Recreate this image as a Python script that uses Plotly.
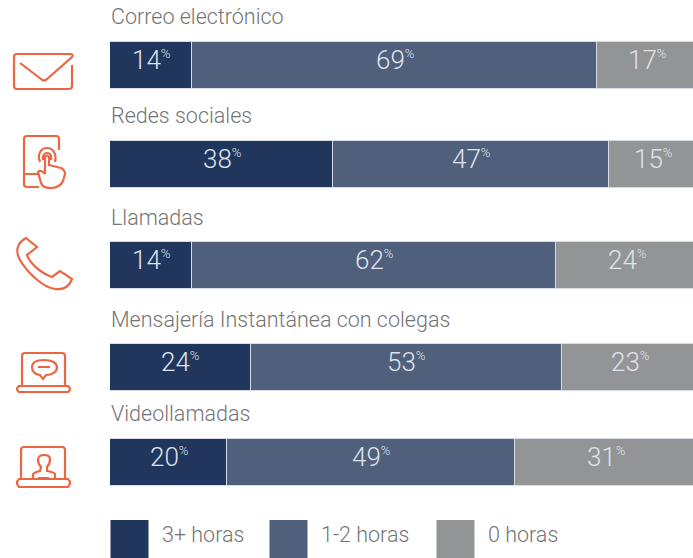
import plotly.graph_objects as go

# Survey data: hours per day spent on each channel (percent of respondents)
channels = ["Correo electrónico", "Redes sociales", "Llamadas",
            "Mensajería Instantánea con colegas", "Videollamadas"]
series_names = ["3+ horas", "1-2 horas", "0 horas"]
heavy_use = [14, 38, 14, 24, 20]
medium_use = [69, 47, 62, 53, 49]
no_use = [17, 15, 24, 23, 31]

# Layout, in page pixels
W, H = 693, 558
row_centres = [65.5, 164.5, 265.5, 367.5, 462.5]
title_y = [16, 115, 217, 319, 413]
bar_px = 47
plot_left = 110
full_scale_px = 587  # width of 100 %
colors = ["#21365c", "#4f5f7c", "#939496"]
edge = "#d5dce6"
label_color = "#dde3ea"
text_color = "#747474"
icon_color = "#ec6642"
font = "Roboto"

fig = go.Figure()

for name, vals, col in zip(series_names, [heavy_use, medium_use, no_use], colors):
    fig.add_trace(go.Bar(
        name=name, y=row_centres, x=vals, orientation="h", width=bar_px,
        marker=dict(color=col, line=dict(color=edge, width=1)),
        showlegend=False, hoverinfo="x+name",
    ))

# Value labels, centred on each segment and raised a little above the bar middle
for i in range(len(channels)):
    start = 0
    for vals in (heavy_use, medium_use, no_use):
        v = vals[i]
        fig.add_annotation(
            x=start + v / 2, y=row_centres[i] - 6, xref="x", yref="y",
            text=f"{v}<sup><span style='font-size:13px'>%</span></sup>",
            showarrow=False, xanchor="center", yanchor="middle",
            font=dict(family=font, size=26, color=label_color, weight=300),
        )
        start += v

# Legend swatches on the pixel axis
legend_x = [129.5, 288.5, 455.5]
legend_text_x = [160, 319, 486]
legend_y = 539
fig.add_trace(go.Scatter(
    x=legend_x, y=[legend_y] * 3, xaxis="x2", yaxis="y", mode="markers",
    marker=dict(symbol="square", size=38, color=colors, line=dict(width=0)),
    showlegend=False, hoverinfo="skip",
))
for name, x in zip(series_names, legend_text_x):
    fig.add_annotation(
        x=x, y=534, xref="x2", yref="y", text=name, showarrow=False,
        xanchor="left", yanchor="middle",
        font=dict(family=font, size=21.5, color=text_color, weight=300),
    )

# Channel headings
for name, y in zip(channels, title_y):
    fig.add_annotation(
        x=109, y=y, xref="x2", yref="y", text=name, showarrow=False,
        xanchor="left", yanchor="middle",
        font=dict(family=font, size=21.5, color=text_color, weight=300),
    )

# Line icons beside each row
icon_paths = [
    # envelope
    "M72,65 L72,86 Q72,89 69,89 L17,89 Q14,89 14,86 L14,57 Q14,54 17,54 L70,54 "
    "Q74,54 72,57 L47,79 Q44,82 41,79 L20,63",
    # tablet with pointing hand
    "M59,150 L59,139 Q59,136 56,136 L27,136 Q24,136 24,139 L24,184 Q24,187 27,187 L39,187 "
    "M24,174 L38,174 "
    "M40,162 C37,154 41,148 47,148 C53,148 57,154 55,162 "
    "M43,160 C42,155 45,153 47,153 C50,153 52,155 51,160 "
    "M45,174 L45,157 Q47,154 49,157 L49,165 L61,168 Q65,170 65,174 L63,181 Q60,188 50,188 "
    "Q43,188 41,183 L38,172 Q41,169 45,174",
    # telephone handset
    "M26,238 L37,247 L27,255 C29,262 40,273 52,277 L60,271 L72,279 "
    "C69,287 63,290 55,289 C42,287 27,272 20,260 C15,251 17,243 26,238 Z",
    # laptop with speech bubble
    "M22,385 L22,356 Q22,353 25,353 L62,353 Q65,353 65,356 L65,385 "
    "M19,386 L68,386 Q72,389 68,392 L19,392 Q15,389 19,386 Z "
    "M44,360 C36,360 32,363 32,367.5 C32,372 36,375 40,375 L43,379 L46,375 "
    "C52,375 57,372 57,367.5 C57,363 52,360 44,360 Z M38,367 L50,367",
    # laptop with a person on screen
    "M21,478 L21,450 Q21,447 24,447 L62,447 Q65,447 65,450 L65,478 "
    "M19,479 L68,479 Q72,483 68,487 L19,487 Q15,483 19,479 Z "
    "M33,478 L33,474 Q35,472 40,471 L41,467 Q38,464 38,459 Q39,455 44,455 Q50,455 50,459 "
    "Q50,464 47,467 L47,471 Q53,472 55,474 L55,478 M38,478 L49,478",
]
for path in icon_paths:
    fig.add_shape(type="path", path=path, xref="x2", yref="y",
                  line=dict(color=icon_color, width=2.2), fillcolor="rgba(0,0,0,0)")

fig.update_layout(
    width=W, height=H, barmode="stack", margin=dict(l=0, r=0, t=0, b=0),
    paper_bgcolor="white", plot_bgcolor="rgba(0,0,0,0)", bargap=0,
    xaxis=dict(domain=[plot_left / W, 1], range=[0, 100 * (W - plot_left) / full_scale_px],
               visible=False, fixedrange=True),
    xaxis2=dict(domain=[0, 1], range=[0, W], anchor="y", visible=False, fixedrange=True),
    yaxis=dict(domain=[0, 1], range=[H, 0], visible=False, fixedrange=True),
)

fig.write_html("out.html", config={"displayModeBar": False})
